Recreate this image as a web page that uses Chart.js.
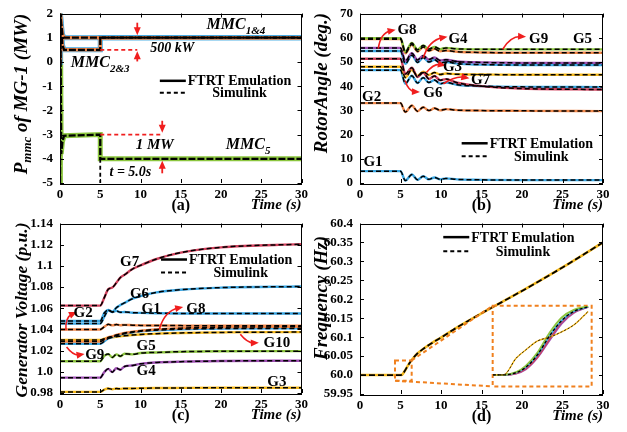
<!DOCTYPE html>
<html>
<head>
<meta charset="utf-8">
<script src="https://cdn.jsdelivr.net/npm/chart.js@4.4.1/dist/chart.umd.min.js"></script>
<style>
  html, body { margin: 0; padding: 0; background: #fff; }
  #wrap { position: relative; width: 627px; height: 432px; overflow: hidden; }
  canvas { position: absolute; }
</style>
</head>
<body>
<div id="wrap">
  <canvas id="ca" width="313" height="216" style="left:0;top:0"></canvas>
  <canvas id="cb" width="327" height="216" style="left:300px;top:0"></canvas>
  <canvas id="cc" width="313" height="222" style="left:0;top:210px"></canvas>
  <canvas id="cd" width="327" height="222" style="left:300px;top:210px"></canvas>
  <canvas id="ci" width="99" height="82" style="left:493px;top:304px"></canvas>
</div>
<script>
// ---- data ----
const xTicks = [0, 5, 10, 15, 20, 25, 30];

// (a) MMC power of MG-1
const tA = [0, 0.05, 0.15, 0.3, 0.5, 5, 5, 30];
const mmc14 = [0, 2, 1.6, 1.15, 1, 1, 1, 1];
const mmc23 = [0, 2, 1.4, 0.7, 0.5, 0.5, 1, 1];
const mmc5 = [-5, 2, -3.8, -3.3, -3.05, -3, -4, -4];
const yTicksA = [-5, -4, -3, -2, -1, 0, 1, 2];

// (b) rotor angles
const tB = [0, 5, 5.6, 6.4, 7.1, 7.8, 8.5, 9.2, 9.9, 10.6, 12, 15, 20, 30];
const angG9 = [59.8, 59.8, 54.2, 57.8, 55.0, 56.8, 55.3, 56.2, 55.3, 55.8, 55.4, 55.2, 55.2, 55.2];
const angG5 = [59.4, 59.4, 53.6, 57.2, 54.3, 56.2, 54.6, 55.4, 54.4, 54.7, 54.2, 53.9, 53.8, 53.8];
const angG8 = [55.8, 55.8, 50.4, 53.6, 50.8, 52.6, 51.0, 51.8, 50.6, 50.9, 50.2, 49.8, 49.6, 49.6];
const angG4 = [54.5, 54.5, 49.2, 52.8, 49.8, 51.8, 50.0, 50.9, 49.6, 50.0, 49.3, 48.9, 48.7, 48.7];
const angG7 = [51.3, 51.3, 45.0, 47.6, 43.8, 45.6, 43.0, 44.2, 42.4, 42.9, 41.4, 40.0, 39.0, 38.6];
const angG3 = [48.0, 48.0, 43.6, 46.8, 44.2, 46.0, 44.6, 45.6, 44.8, 45.2, 44.9, 44.8, 44.7, 44.7];
const angG6 = [46.6, 46.6, 41.0, 44.3, 41.3, 43.5, 41.5, 42.5, 41.0, 41.5, 40.6, 40.0, 39.7, 39.6];
const angG2 = [33.0, 33.0, 29.3, 32.0, 29.6, 31.3, 29.9, 30.9, 30.0, 30.5, 30.1, 29.9, 29.8, 29.7];
const angG1 = [4.9, 4.9, 1.0, 3.5, 1.3, 2.8, 1.5, 2.3, 1.5, 1.9, 1.5, 1.3, 1.2, 1.2];
const yTicksB = [0, 10, 20, 30, 40, 50, 60, 70];

// (c) generator voltages
const tC = [0, 5, 5.5, 6, 6.5, 7, 7.5, 8, 9, 10, 12, 15, 20, 30];
const vG7 = [1.0625, 1.0625, 1.070, 1.078, 1.0795, 1.084, 1.089, 1.0915, 1.097, 1.1005, 1.1065, 1.1125, 1.1175, 1.1205];
const vG6 = [1.0455, 1.0455, 1.052, 1.058, 1.0565, 1.0605, 1.063, 1.065, 1.069, 1.0715, 1.075, 1.0775, 1.0795, 1.0805];
const vG1 = [1.048, 1.048, 1.0555, 1.0585, 1.0565, 1.0575, 1.0562, 1.0565, 1.0558, 1.0556, 1.0553, 1.0551, 1.055, 1.055];
const vG2 = [1.040, 1.040, 1.0425, 1.0448, 1.0438, 1.0446, 1.0440, 1.0443, 1.0440, 1.0438, 1.0437, 1.0436, 1.0435, 1.0435];
const vG8 = [1.0285, 1.0285, 1.0305, 1.0325, 1.0335, 1.0348, 1.0358, 1.0366, 1.0378, 1.0388, 1.0400, 1.0412, 1.0421, 1.0425];
const vG9 = [1.0265, 1.0265, 1.0288, 1.0315, 1.0328, 1.0342, 1.0352, 1.036, 1.0372, 1.0382, 1.0393, 1.0402, 1.0408, 1.041];
const vG10 = [1.030, 1.030, 1.0312, 1.0322, 1.0326, 1.0332, 1.0336, 1.034, 1.0347, 1.0352, 1.036, 1.0367, 1.0372, 1.0375];
const vG5 = [1.010, 1.010, 1.015, 1.0167, 1.0136, 1.0165, 1.0147, 1.017, 1.0165, 1.0177, 1.0183, 1.019, 1.0194, 1.0195];
const vG4 = [0.9945, 0.9945, 0.9997, 1.0028, 0.9997, 1.0034, 1.002, 1.005, 1.006, 1.0075, 1.0088, 1.0096, 1.0102, 1.0105];
const vG3 = [0.981, 0.981, 0.9832, 0.9843, 0.9835, 0.9842, 0.9839, 0.9843, 0.9843, 0.9845, 0.9847, 0.9848, 0.9849, 0.985];
const yTicksC = [0.98, 1.0, 1.02, 1.04, 1.06, 1.08, 1.1, 1.12, 1.14];
const yLabelsC = ['0.98', '1.0', '1.02', '1.04', '1.06', '1.08', '1.1', '1.12', '1.14'];

// (d) frequency
const tD = [0, 5, 5.2, 5.5, 6, 6.5, 7, 8, 9, 10, 12, 15, 20, 25, 30];
const freq = [60, 60, 60.001, 60.01, 60.028, 60.043, 60.055, 60.072, 60.086, 60.099, 60.126, 60.163, 60.222, 60.284, 60.35];
const yTicksD = [59.95, 60.0, 60.05, 60.1, 60.15, 60.2, 60.25, 60.3, 60.35, 60.4];
const yLabelsD = ['59.95', '60.0', '60.05', '60.1', '60.15', '60.2', '60.25', '60.3', '60.35', '60.4'];

// (d) zoomed inset, t = 4.32 .. 6.38 s
const tZoom = [4.32, 4.54, 4.8, 5.0, 5.25, 5.5, 5.75, 6.0, 6.3];
const fzGreen = [59.993, 59.993, 59.9948, 59.999, 60.008, 60.021, 60.031, 60.036, 60.0385];
const fzBlue = [59.993, 59.993, 59.9945, 59.998, 60.0065, 60.019, 60.029, 60.035, 60.038];
const fzRed = [59.993, 59.993, 59.994, 59.997, 60.005, 60.017, 60.028, 60.0345, 60.038];
const fzPurple = [59.993, 59.993, 59.9938, 59.9965, 60.0045, 60.016, 60.027, 60.034, 60.038];
const fzYellow = [59.993, 59.993, 60.004, 60.0095, 60.0155, 60.018, 60.0215, 60.026, 60.035];

// ---- styling ----
const FONT = '"Liberation Serif", "Times New Roman", serif';
const C = { blue: '#3ba7e3', orange: '#f2884a', green: '#8cc63f', purple: '#9e4fb3',
  red: '#d0405c', yellow: '#f5b91e', arrow: '#f01e1e', box: '#f0801e' };
const tickFont = { family: FONT, size: 13, weight: 'bold', lineHeight: 1 };

function pts(xs, ys) { return xs.map((x, i) => ({ x: x, y: ys[i] })); }

function line(xs, ys, color, width, dash, order, smooth) {
  return { data: pts(xs, ys), borderColor: color, borderWidth: width, borderDash: dash || [],
    pointRadius: 0, fill: false, order: order, tension: 0,
    cubicInterpolationMode: smooth ? 'monotone' : 'default' };
}
// coloured FTRT trace with the black dashed Simulink trace on top
function pair(xs, ys, color) {
  return [line(xs, ys, color, 2.4, [], 2, true), line(xs, ys, '#000', 1.5, [5, 3], 1, true)];
}

function scales(yMin, yMax, yTicks, yLabels, xH) {
  return {
    x: { type: 'linear', min: 0, max: 30,
      afterBuildTicks: s => { s.ticks = xTicks.map(v => ({ value: v })); },
      afterFit: s => { s.height = xH; },
      ticks: { font: tickFont, color: '#000', padding: 5, maxRotation: 0, callback: v => String(v) },
      grid: { display: false, drawTicks: false }, border: { display: false } },
    y: { type: 'linear', min: yMin, max: yMax,
      afterBuildTicks: s => { s.ticks = yTicks.map(v => ({ value: v })); },
      afterFit: s => { s.width = 60; },
      ticks: { font: tickFont, color: '#000', padding: 7,
        callback: (v, i) => yLabels ? yLabels[i] : String(v) },
      grid: { display: false, drawTicks: false }, border: { display: false } }
  };
}

// ---- drawing helpers ----
function P(chart, x, y) { return [chart.scales.x.getPixelForValue(x), chart.scales.y.getPixelForValue(y)]; }

function txt(ctx, s, x, y, size, style, align) {
  ctx.font = style + ' ' + size + 'px ' + FONT;
  ctx.textAlign = align || 'left';
  ctx.fillText(s, x, y);
}

function rich(ctx, parts, x, y, size, align) {
  const sz = p => p[1] ? Math.round(size * 0.68) : size;
  let w = 0;
  parts.forEach(p => { ctx.font = 'italic bold ' + sz(p) + 'px ' + FONT; w += ctx.measureText(p[0]).width; });
  let cx = align === 'center' ? x - w / 2 : x;
  ctx.textAlign = 'left';
  parts.forEach(p => {
    ctx.font = 'italic bold ' + sz(p) + 'px ' + FONT;
    ctx.fillText(p[0], cx, y + (p[1] ? size * 0.28 : 0));
    cx += ctx.measureText(p[0]).width;
  });
}

function arrow(ctx, a, b, bend) {
  const dx = b[0] - a[0], dy = b[1] - a[1];
  const cx = (a[0] + b[0]) / 2 - dy * bend, cy = (a[1] + b[1]) / 2 + dx * bend;
  const ang = Math.atan2(b[1] - cy, b[0] - cx);
  const ex = b[0] - Math.cos(ang) * 5, ey = b[1] - Math.sin(ang) * 5;
  ctx.beginPath(); ctx.moveTo(a[0], a[1]); ctx.quadraticCurveTo(cx, cy, ex, ey); ctx.stroke();
  ctx.beginPath();
  ctx.moveTo(b[0], b[1]);
  ctx.lineTo(b[0] - Math.cos(ang) * 8 + Math.sin(ang) * 3.5, b[1] - Math.sin(ang) * 8 - Math.cos(ang) * 3.5);
  ctx.lineTo(b[0] - Math.cos(ang) * 8 - Math.sin(ang) * 3.5, b[1] - Math.sin(ang) * 8 + Math.cos(ang) * 3.5);
  ctx.closePath(); ctx.fill();
}

function legendBox(ctx, p, gap) {
  const x = p[0], y = p[1];
  ctx.save();
  ctx.strokeStyle = '#000'; ctx.fillStyle = '#000';
  ctx.lineWidth = 2.5; ctx.setLineDash([]);
  ctx.beginPath(); ctx.moveTo(x, y); ctx.lineTo(x + 26, y); ctx.stroke();
  ctx.lineWidth = 2; ctx.setLineDash([4, 3]);
  ctx.beginPath(); ctx.moveTo(x, y + gap); ctx.lineTo(x + 26, y + gap); ctx.stroke();
  ctx.setLineDash([]);
  ctx.textBaseline = 'middle';
  txt(ctx, 'FTRT Emulation', x + 28, y + 1, 14, 'bold');
  const w = ctx.measureText('FTRT Emulation').width;
  txt(ctx, 'Simulink', x + 28 + w / 2, y + gap + 1, 14, 'bold', 'center');
  ctx.restore();
}

// frame, inward ticks, axis titles and panel letter
function frame(tag, yTitle, titleSize, titleY) {
  return {
    id: 'frame',
    afterDraw(chart) {
      const ctx = chart.ctx, a = chart.chartArea;
      ctx.save();
      ctx.strokeStyle = '#000'; ctx.lineWidth = 1; ctx.setLineDash([]);
      ctx.strokeRect(Math.round(a.left) + 0.5, Math.round(a.top) + 0.5,
        Math.round(a.right - a.left) - 1, Math.round(a.bottom - a.top));
      ctx.beginPath();
      chart.scales.x.ticks.forEach(t => {
        const x = Math.round(chart.scales.x.getPixelForValue(t.value)) + 0.5;
        ctx.moveTo(x, a.bottom); ctx.lineTo(x, a.bottom - 4);
        ctx.moveTo(x, a.top); ctx.lineTo(x, a.top + 4);
      });
      chart.scales.y.ticks.forEach(t => {
        const y = Math.round(chart.scales.y.getPixelForValue(t.value)) + 0.5;
        ctx.moveTo(a.left, y); ctx.lineTo(a.left + 4, y);
        ctx.moveTo(a.right, y); ctx.lineTo(a.right - 4, y);
      });
      ctx.stroke();
      ctx.fillStyle = '#000';
      ctx.textBaseline = 'alphabetic';
      txt(ctx, 'Time (s)', a.right, a.bottom + 26, 15, 'italic bold', 'right');
      txt(ctx, tag, (a.left + a.right) / 2, a.bottom + 27, 16, 'bold', 'center');
      ctx.translate(22, titleY);
      ctx.rotate(-Math.PI / 2);
      ctx.textBaseline = 'middle';
      rich(ctx, yTitle, 0, 0, titleSize, 'center');
      ctx.restore();
    }
  };
}

function deco(draw) {
  return { id: 'deco', afterDatasetsDraw(chart) {
    const ctx = chart.ctx;
    ctx.save();
    ctx.fillStyle = '#000';
    ctx.textBaseline = 'alphabetic';
    draw(chart, ctx);
    ctx.restore();
  } };
}

function base(sc, pad, plugins) {
  return {
    responsive: false, animation: false, devicePixelRatio: 1,
    layout: { padding: pad },
    plugins: { legend: { display: false }, tooltip: { enabled: false } },
    scales: sc
  };
}

// ---- (a) ----
new Chart(document.getElementById('ca'), {
  type: 'line',
  data: { datasets: [
    line(tA, mmc14, C.blue, 5, [], 4), line(tA, mmc14, C.orange, 3.5, [], 3), line(tA, mmc14, '#000', 2.3, [7, 2], 1),
    line(tA, mmc23, C.blue, 5, [], 4), line(tA, mmc23, C.orange, 3.5, [], 3), line(tA, mmc23, '#000', 2.3, [7, 2], 1),
    line(tA, mmc5, C.green, 5, [], 4), line(tA, mmc5, '#000', 2.3, [7, 2], 1),
    line([5, 5], [-4, -5], '#000', 1.8, [4, 3], 1),
    line([5, 9.6], [0.5, 0.5], C.arrow, 1.8, [4, 3], 0),
    line([5, 12.7], [-3, -3], C.arrow, 1.8, [4, 3], 0)
  ] },
  options: base(scales(-5, 2, yTicksA, null, 33), { left: 0, top: 7, right: 9, bottom: 0 }),
  plugins: [frame('(a)', [['P'], ['mmc', 1], [' of MG-1 (MW)']], 19, 94), deco((ch, ctx) => {
    ctx.strokeStyle = C.arrow; ctx.fillStyle = C.arrow; ctx.lineWidth = 1.8;
    arrow(ctx, P(ch, 9.6, 1.62), P(ch, 9.6, 1.1), 0);
    arrow(ctx, P(ch, 9.6, 0.02), P(ch, 9.6, 0.44), 0);
    arrow(ctx, P(ch, 12.7, -2.43), P(ch, 12.7, -2.92), 0);
    arrow(ctx, P(ch, 12.7, -4.6), P(ch, 12.7, -4.08), 0);
    ctx.fillStyle = '#000';
    let p = P(ch, 18.2, 1.35); rich(ctx, [['MMC'], ['1&4', 1]], p[0], p[1], 16);
    p = P(ch, 1.35, -0.22); rich(ctx, [['MMC'], ['2&3', 1]], p[0], p[1], 16);
    p = P(ch, 20.6, -3.6); rich(ctx, [['MMC'], ['5', 1]], p[0], p[1], 16);
    p = P(ch, 11.2, 0.42); txt(ctx, '500 kW', p[0], p[1], 14, 'italic bold');
    p = P(ch, 9.4, -3.6); txt(ctx, '1 MW', p[0], p[1], 15, 'italic bold');
    p = P(ch, 6.15, -4.72); txt(ctx, 't = 5.0s', p[0], p[1], 14, 'italic bold');
    legendBox(ctx, P(ch, 12.4, -0.78), 12);
  })]
});

// ---- (b) ----
new Chart(document.getElementById('cb'), {
  type: 'line',
  data: { datasets: [].concat(
    pair(tB, angG9, C.green), pair(tB, angG5, C.orange), pair(tB, angG8, C.purple),
    pair(tB, angG4, C.blue), pair(tB, angG7, C.red), pair(tB, angG3, C.yellow),
    pair(tB, angG6, C.blue), pair(tB, angG2, C.orange), pair(tB, angG1, C.blue)) },
  options: base(scales(0, 70, yTicksB, null, 33), { left: 0, top: 7, right: 24, bottom: 0 }),
  plugins: [frame('(b)', [['RotorAngle (deg.)']], 19, 83), deco((ch, ctx) => {
    ctx.strokeStyle = C.arrow; ctx.fillStyle = C.arrow; ctx.lineWidth = 1.6;
    arrow(ctx, P(ch, 2.26, 55.5), P(ch, 4.4, 63.3), -0.35);
    arrow(ctx, P(ch, 7.8, 51.6), P(ch, 10.8, 60.4), -0.3);
    arrow(ctx, P(ch, 17.6, 55.2), P(ch, 20.5, 60.4), -0.3);
    arrow(ctx, P(ch, 8.2, 45.6), P(ch, 10.6, 48.5), -0.3);
    arrow(ctx, P(ch, 10.3, 41.0), P(ch, 13.5, 43.3), -0.2);
    arrow(ctx, P(ch, 5.56, 42.3), P(ch, 7.4, 37.6), 0.35);
    ctx.fillStyle = '#000';
    const lab = (s, x, y) => { const p = P(ch, x, y); txt(ctx, s, p[0], p[1], 15, 'bold', 'center'); };
    lab('G8', 5.8, 61.5); lab('G4', 12.1, 57.9); lab('G9', 22.06, 57.9); lab('G5', 27.47, 57.9);
    lab('G3', 11.42, 46.3); lab('G7', 14.9, 41.0); lab('G6', 9.0, 35.4);
    lab('G2', 1.44, 33.9); lab('G1', 1.6, 6.9);
    legendBox(ctx, P(ch, 12.55, 16.4), 13);
  })]
});

// ---- (c) ----
new Chart(document.getElementById('cc'), {
  type: 'line',
  data: { datasets: [].concat(
    pair(tC, vG7, C.red), pair(tC, vG6, C.blue), pair(tC, vG1, C.blue), pair(tC, vG2, C.orange),
    pair(tC, vG8, C.orange), pair(tC, vG9, C.blue), pair(tC, vG10, C.yellow),
    pair(tC, vG5, C.green), pair(tC, vG4, C.purple), pair(tC, vG3, C.yellow)) },
  options: base(scales(0.98, 1.14, yTicksC, yLabelsC, 39), { left: 0, top: 10, right: 10, bottom: 0 }),
  plugins: [frame('(c)', [['Generator Voltage (p.u.)']], 17.5, 100), deco((ch, ctx) => {
    ctx.strokeStyle = C.arrow; ctx.fillStyle = C.arrow; ctx.lineWidth = 1.6;
    arrow(ctx, P(ch, 0.74, 1.0392), P(ch, 2.1, 1.0565), -0.35);
    arrow(ctx, P(ch, 0.82, 1.0235), P(ch, 3.05, 1.0168), 0.3);
    arrow(ctx, P(ch, 12.35, 1.0405), P(ch, 15.3, 1.0612), -0.3);
    arrow(ctx, P(ch, 22.4, 1.0355), P(ch, 24.7, 1.0275), 0.25);
    ctx.fillStyle = '#000';
    const lab = (s, x, y) => { const p = P(ch, x, y); txt(ctx, s, p[0], p[1], 15, 'bold', 'center'); };
    lab('G7', 8.64, 1.0999); lab('G6', 9.88, 1.0697); lab('G1', 11.32, 1.0558);
    lab('G8', 16.87, 1.0552); lab('G2', 2.88, 1.0518); lab('G9', 4.32, 1.012);
    lab('G5', 10.7, 1.0204); lab('G10', 26.95, 1.0238); lab('G4', 10.7, 0.9973); lab('G3', 26.95, 0.9865);
    legendBox(ctx, P(ch, 12.55, 1.106), 13);
  })]
});

// ---- (d) ----
const smallBox = [4.32, 6.38, 59.985, 60.0386];
const bigBox = [16.38, 28.6, 59.97, 60.183];
const chartD = new Chart(document.getElementById('cd'), {
  type: 'line',
  data: { datasets: [
    line(tD, freq, C.yellow, 2.6, [], 2, true),
    line(tD, freq, '#000', 1.8, [6, 3], 1, true)
  ] },
  options: base(scales(59.95, 60.4, yTicksD, yLabelsD, 38), { left: 0, top: 10, right: 24, bottom: 0 }),
  plugins: [frame('(d)', [['Frequency (Hz)']], 19, 88), deco((ch, ctx) => {
    ctx.strokeStyle = C.box; ctx.lineWidth = 2; ctx.setLineDash([4, 3]);
    const rect = b => {
      const p0 = P(ch, b[0], b[3]), p1 = P(ch, b[1], b[2]);
      ctx.strokeRect(p0[0], p0[1], p1[0] - p0[0], p1[1] - p0[1]);
    };
    rect(smallBox); rect(bigBox);
    ctx.beginPath();
    let p = P(ch, smallBox[1], smallBox[3]); ctx.moveTo(p[0], p[1]);
    p = P(ch, bigBox[0], bigBox[3]); ctx.lineTo(p[0], p[1]);
    p = P(ch, smallBox[0], smallBox[2]); ctx.moveTo(p[0], p[1]);
    p = P(ch, bigBox[0], bigBox[2]); ctx.lineTo(p[0], p[1]);
    ctx.stroke();
    ctx.setLineDash([]);
    legendBox(ctx, P(ch, 10.28, 60.364), 14);
  })]
});

// inset: placed over the big dashed box
const ci = document.getElementById('ci');
const bl = chartD.scales.x.getPixelForValue(bigBox[0]), br = chartD.scales.x.getPixelForValue(bigBox[1]);
const bt = chartD.scales.y.getPixelForValue(bigBox[3]), bb = chartD.scales.y.getPixelForValue(bigBox[2]);
ci.style.left = Math.round(300 + bl) + 'px';
ci.style.top = Math.round(210 + bt) + 'px';
ci.width = Math.round(br - bl);
ci.height = Math.round(bb - bt);
new Chart(ci, {
  type: 'line',
  data: { datasets: [
    line(tZoom, fzYellow, C.yellow, 1.4, [], 3, true),
    line(tZoom, fzGreen, C.green, 1.8, [], 3, true),
    line(tZoom, fzBlue, C.blue, 1.8, [], 3, true),
    line(tZoom, fzRed, C.red, 1.8, [], 3, true),
    line(tZoom, fzPurple, C.purple, 1.8, [], 3, true),
    line(tZoom, fzBlue, '#000', 1.4, [3, 2], 1, true),
    line(tZoom, fzYellow, '#000', 0.8, [2, 2], 1, true)
  ] },
  options: {
    responsive: false, animation: false, devicePixelRatio: 1,
    layout: { padding: 0 },
    plugins: { legend: { display: false }, tooltip: { enabled: false } },
    scales: {
      x: { type: 'linear', display: false, min: smallBox[0], max: smallBox[1] },
      y: { type: 'linear', display: false, min: smallBox[2], max: smallBox[3] }
    }
  }
});
</script>
</body>
</html>
